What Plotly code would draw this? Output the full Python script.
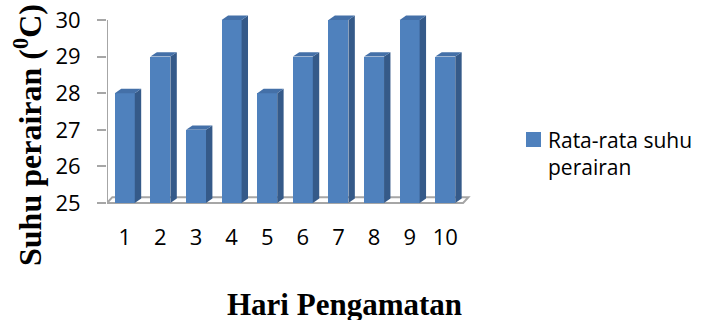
import plotly.graph_objects as go

# Observation days and mean water temperature per day
hari = [1, 2, 3, 4, 5, 6, 7, 8, 9, 10]
suhu = [28, 29, 27, 30, 28, 29, 30, 29, 30, 29]
y_ticks = [25, 26, 27, 28, 29, 30]
y_base = 25
series_name = "Rata-rata suhu<br>perairan"

# Page geometry (pixels)
W, H = 706, 320
ML, MR, MT, MB = 107, 234, 6, 110
PLOT_W = W - ML - MR
PLOT_H = H - MT - MB
X_RANGE = [0.5, 10.75]
PX_PER_UNIT = 36.6          # vertical pixels per degree
Y_TOP_PX = 20               # pixel row of the 30 tick
Y_RANGE = [
    max(y_ticks) - (PLOT_H - (Y_TOP_PX - MT)) / PX_PER_UNIT,
    max(y_ticks) + (Y_TOP_PX - MT) / PX_PER_UNIT,
]

# Pseudo-3D column styling
BAR_W = 0.56
DX, DY = 0.18, 0.12          # depth offset of columns (x cats, y units)
FDX, FDY = 0.15, 0.16        # depth offset of the floor
FRONT = "#4F81BD"
TOP = "#4470A8"
SIDE = "#355A89"
GRID = "#A6A6A6"

SANS = "Open Sans, Calibri, sans-serif"
SERIF = "Liberation Serif, Times New Roman, serif"

fig = go.Figure()
fig.add_trace(go.Bar(
    x=hari,
    y=[v - y_base for v in suhu],
    base=y_base,
    width=BAR_W,
    marker=dict(color=FRONT, line=dict(width=0)),
    name=series_name,
    showlegend=False,
))


def px_x(p):
    return (p - ML) / PLOT_W


def px_y(p):
    return (H - MB - p) / PLOT_H


shapes = []
# floor outline
x0, x1 = X_RANGE[0], 10.5
shapes.append(dict(
    type="path", xref="x", yref="y", layer="below",
    path=f"M{x0},{y_base} L{x1},{y_base} L{x1 + FDX},{y_base + FDY} "
         f"L{x0 + FDX},{y_base + FDY} Z",
    line=dict(color=GRID, width=2), fillcolor="rgba(0,0,0,0)",
))
# vertical axis line
shapes.append(dict(
    type="line", xref="x", yref="y", layer="below",
    x0=x0, x1=x0, y0=y_base, y1=max(y_ticks),
    line=dict(color=GRID, width=2),
))
# side and top faces of each column
for xi, v in zip(hari, suhu):
    l, r = xi - BAR_W / 2, xi + BAR_W / 2
    shapes.append(dict(
        type="path", xref="x", yref="y", layer="above",
        path=f"M{r},{y_base} L{r},{v} L{r + DX},{v + DY} L{r + DX},{y_base + DY} Z",
        line=dict(width=0), fillcolor=SIDE,
    ))
    shapes.append(dict(
        type="path", xref="x", yref="y", layer="above",
        path=f"M{l},{v} L{r},{v} L{r + DX},{v + DY} L{l + DX},{v + DY} Z",
        line=dict(width=0), fillcolor=TOP,
    ))

# legend key swatch
shapes.append(dict(
    type="rect", xref="paper", yref="paper",
    x0=px_x(526), x1=px_x(541), y0=px_y(147), y1=px_y(132),
    line=dict(width=0), fillcolor=FRONT,
))

annotations = [
    dict(text="<b>Hari Pengamatan</b>", xref="paper", yref="paper",
         x=px_x(344), y=px_y(304), xanchor="center", yanchor="middle",
         showarrow=False, font=dict(family=SERIF, size=31, color="black")),
    dict(text="<b>Suhu perairan (<sup>0</sup>C)</b>", xref="paper", yref="paper",
         x=px_x(28), y=px_y(135), xanchor="center", yanchor="middle",
         textangle=-90, showarrow=False,
         font=dict(family=SERIF, size=32, color="black")),
    dict(text=series_name, xref="paper", yref="paper",
         x=px_x(546), y=px_y(124), xanchor="left", yanchor="top",
         align="left", showarrow=False,
         font=dict(family=SANS, size=21, color="black")),
]

fig.update_layout(
    width=W, height=H,
    margin=dict(l=ML, r=MR, t=MT, b=MB, autoexpand=False),
    paper_bgcolor="white", plot_bgcolor="white",
    shapes=shapes,
    annotations=annotations,
    showlegend=False,
    xaxis=dict(
        range=X_RANGE, tickvals=hari, ticktext=[str(h) for h in hari],
        showgrid=False, zeroline=False, showline=False, ticks="",
        tickfont=dict(family=SANS, size=22, color="black"),
        ticklabelstandoff=12,
    ),
    yaxis=dict(
        range=Y_RANGE, tickvals=y_ticks, ticktext=[str(t) for t in y_ticks],
        showgrid=False, zeroline=False, showline=False,
        ticks="outside", ticklen=9, tickwidth=2, tickcolor=GRID,
        tickfont=dict(family=SANS, size=22, color="black"),
        ticklabelstandoff=12,
    ),
    bargap=0,
)

fig.write_html("out.html")
